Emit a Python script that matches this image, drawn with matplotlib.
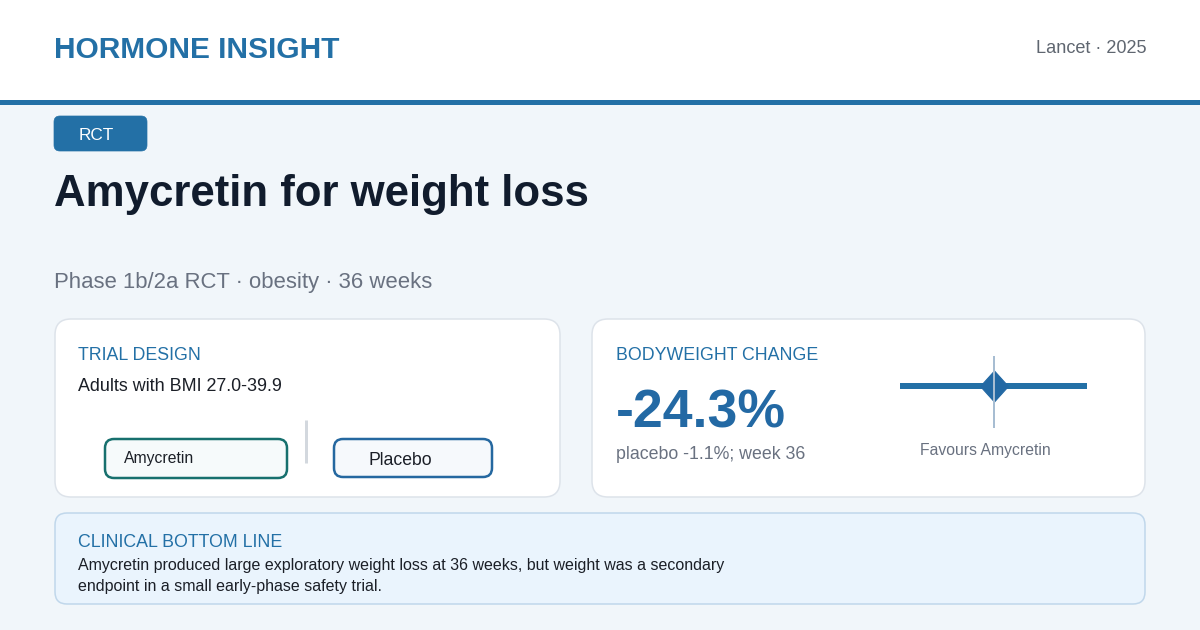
import matplotlib
matplotlib.use("Agg")
import matplotlib.pyplot as plt
from matplotlib.patches import FancyBboxPatch, Rectangle
from matplotlib.path import Path

plt.rcParams['font.family'] = ['Liberation Sans', 'DejaVu Sans']

# ---- data ----
brand = "HORMONE INSIGHT"
source = "Lancet · 2025"
tag = "RCT"
title = "Amycretin for weight loss"
subtitle = "Phase 1b/2a RCT · obesity · 36 weeks"
design_heading = "TRIAL DESIGN"
population = "Adults with BMI 27.0-39.9"
arms = ["Amycretin", "Placebo"]
outcome_heading = "BODYWEIGHT CHANGE"
effect_pct = -24.3
placebo_pct = -1.1
week = 36
forest_ci = [-1.0, 1.0]      # normalised CI bounds
forest_est = [0.0]           # normalised point estimate
forest_ref = 0.0             # reference line
forest_label = "Favours Amycretin"
bottom_heading = "CLINICAL BOTTOM LINE"
bottom_lines = ["Amycretin produced large exploratory weight loss at 36 weeks, but weight was a secondary",
                "endpoint in a small early-phase safety trial."]

# ---- colours ----
BLUE = "#2370a6"
DARK = "#111c2d"
GREY = "#697180"
BG = "#f1f6fa"

W, H = 1200, 630
fig = plt.figure(figsize=(12, 6.3), dpi=100)
fig.patch.set_facecolor(BG)
ax = fig.add_axes([0, 0, 1, 1])
ax.set_xlim(0, W)
ax.set_ylim(H, 0)
ax.axis("off")

def pt(px):
    return px * 0.72

def rbox(x, y, w, h, r, fc, ec, lw, z=1):
    p = FancyBboxPatch((x, y), w, h, boxstyle=f"round,pad=0,rounding_size={r}",
                       fc=fc, ec=ec, lw=lw, zorder=z)
    ax.add_patch(p)

# header
ax.add_patch(Rectangle((0, 0), W, 100, fc="white", ec="none", zorder=0))
ax.add_patch(Rectangle((0, 100), W, 5, fc=BLUE, ec="none", zorder=1))
ax.text(54, 58, brand, fontsize=21.5, fontweight="bold", color=BLUE, va="baseline", ha="left")
ax.text(1146, 53, source, fontsize=13.1, color="#5f6670", va="baseline", ha="right")

# tag pill
rbox(54, 116, 93, 35, 6, BLUE, BLUE, 0.5, z=2)
ax.text(96, 140, tag, fontsize=12.4, color="white", va="baseline", ha="center", zorder=3)

# title + subtitle
ax.text(54, 206, title, fontsize=31.5, fontweight="bold", color=DARK, va="baseline", ha="left")
ax.text(54, 288, subtitle, fontsize=15.9, color=GREY, va="baseline", ha="left")

# card 1
rbox(55, 319, 505, 178, 16, "white", "#dde3ea", 1.1, z=1)
ax.text(78, 360, design_heading, fontsize=12.8, color=BLUE, va="baseline", ha="left", zorder=3)
ax.text(78, 391, population, fontsize=12.9, color="#1b1f27", va="baseline", ha="left", zorder=3)
ax.plot([306, 306], [420, 463], color="#d3d8de", lw=pt(3), solid_capstyle="butt", zorder=3)
rbox(105, 439, 182, 39, 9, "#f6fafb", "#17706e", pt(2.5), z=3)
ax.text(124, 463, arms[0], fontsize=11.3, color="#1b1f27", va="baseline", ha="left", zorder=4)
rbox(334, 439, 158, 38, 9, "#f6f9fc", "#2568a0", pt(2.5), z=3)
ax.text(368, 465, arms[1], fontsize=12.7, color="#1b1f27", va="baseline", ha="left", zorder=4)

# card 2
rbox(592, 319, 553, 178, 16, "white", "#dde3ea", 1.1, z=1)
ax.text(616, 360, outcome_heading, fontsize=12.8, color=BLUE, va="baseline", ha="left", zorder=3)
ax.text(616, 427, f"{effect_pct:.1f}%", fontsize=38.6, fontweight="bold", color="#2369a4",
        va="baseline", ha="left", zorder=3)
ax.text(616, 459, f"placebo {placebo_pct:.1f}%; week {week}", fontsize=12.8, color=GREY,
        va="baseline", ha="left", zorder=3)

# forest mini plot
fx0, fx1, fy0, fy1 = 900, 1087, 356, 428
fax = fig.add_axes([fx0 / W, 1 - fy1 / H, (fx1 - fx0) / W, (fy1 - fy0) / H])
fax.set_xlim(forest_ci[0], forest_ci[1])
fax.set_ylim(-1, 1)
fax.axis("off")
fax.patch.set_alpha(0)
fax.plot(forest_ci, [0.17, 0.17], color=BLUE, lw=pt(6), solid_capstyle="butt", zorder=2, clip_on=False)
diamond = Path([(0, 1), (0.9, 0), (0, -1), (-0.9, 0), (0, 1)],
               [Path.MOVETO, Path.LINETO, Path.LINETO, Path.LINETO, Path.CLOSEPOLY])
fax.plot(forest_est, [0.17], marker=diamond, markersize=pt(31), color="#2369a4", mec="#2369a4",
         mew=0.8, linestyle="none", zorder=3, clip_on=False)
fax.axvline(forest_ref, color="#a7bdd2", lw=pt(2), zorder=4)
ax.text(985, 455, forest_label, fontsize=11.3, color=GREY, va="baseline", ha="center", zorder=3)

# bottom card
rbox(55, 513, 1090, 91, 12, "#eaf4fd", "#c0d7eb", 1.1, z=1)
ax.text(78, 547, bottom_heading, fontsize=12.8, color=BLUE, va="baseline", ha="left", zorder=3)
ax.text(78, 570, bottom_lines[0], fontsize=11.5, color="#1b1f27", va="baseline", ha="left", zorder=3)
ax.text(78, 591, bottom_lines[1], fontsize=11.5, color="#1b1f27", va="baseline", ha="left", zorder=3)

fig.savefig("out.png", dpi=100, facecolor=fig.get_facecolor())
